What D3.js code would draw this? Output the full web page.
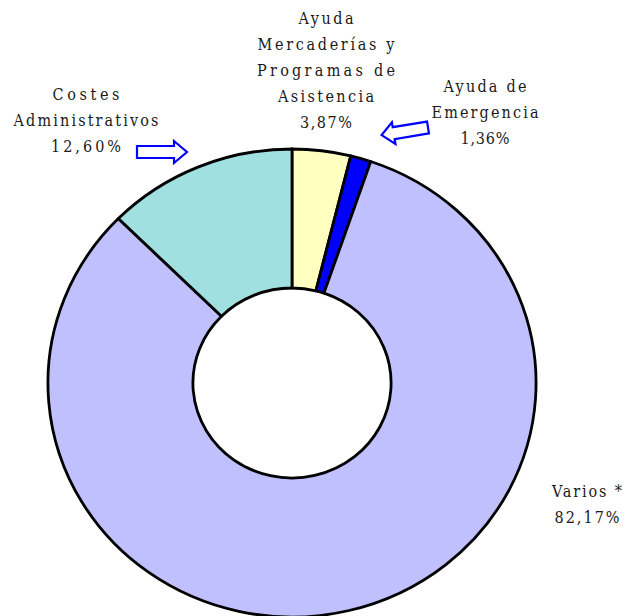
<!DOCTYPE html>
<html>
<head>
<meta charset="utf-8">
<script src="https://cdn.jsdelivr.net/npm/d3@7"></script>
<style>
  html, body { margin: 0; padding: 0; background: #fff; }
  svg { display: block; }
</style>
</head>
<body>
<svg id="chart" width="625" height="616"></svg>
<script>
// ---- data ----
const categories = [
  "Ayuda Mercaderías y Programas de Asistencia",
  "Ayuda de Emergencia",
  "Varios *",
  "Costes Administrativos"
];
const values = [3.87, 1.36, 82.17, 12.60];
const labelLines = [
  ["Ayuda", "Mercaderías y", "Programas de", "Asistencia"],
  ["Ayuda de", "Emergencia"],
  ["Varios *"],
  ["Costes", "Administrativos"]
];
const colors = ["#ffffc0", "#0000ff", "#c0c0ff", "#a0e0e0"];

// ---- layout (not data) ----
const cx = 292, cy = 383, outerR = 234, innerR = 95, xStretch = 1.043;
const labelLayout = [
  { x: 326, y: 24, widths: [55, 137, 138, 96, 52] },
  { x: 485, y: 92, widths: [83, 107, 49] },
  { x: 587, y: 497, widths: [70, 65] },
  { x: 86, y: 100, widths: [67, 145, 70] }
];
const lineH = 26;

const svg = d3.select("#chart");
const fmt = v => d3.format(".2f")(v).replace(".", ",") + "%";

const pie = d3.pie().sort(null).value(d => d)(values);
const arc = d3.arc().innerRadius(innerR).outerRadius(outerR);

const g = svg.append("g")
  .attr("transform", `translate(${cx},${cy}) scale(${xStretch},1)`);

g.selectAll("path.slice")
  .data(pie)
  .join("path")
  .attr("class", "slice")
  .attr("d", arc)
  .attr("fill", (d, i) => colors[i])
  .attr("stroke", "#000")
  .attr("stroke-width", 2.8)
  .attr("stroke-linejoin", "round")
  .attr("vector-effect", "non-scaling-stroke");

// ---- labels ----
categories.forEach((c, i) => {
  const L = labelLayout[i];
  const lines = labelLines[i].concat([fmt(values[i])]);
  const t = svg.append("text")
    .attr("text-anchor", "middle")
    .attr("font-family", "'DejaVu Serif Condensed', 'DejaVu Serif', serif")
    .attr("font-stretch", "condensed")
    .attr("font-size", 16)
    .attr("fill", "#1a1a1a");
  lines.forEach((ln, j) => {
    t.append("tspan")
      .attr("x", L.x)
      .attr("y", L.y + j * lineH)
      .attr("textLength", L.widths[j])
      .attr("lengthAdjust", "spacing")
      .text(ln);
  });
});

// ---- arrows ----
const arrowShape = [[0, -6], [37, -6], [37, -11], [50, 0], [37, 11], [37, 6], [0, 6]];
const arrowLine = d3.line();
const arrows = [
  { tx: 137, ty: 152, rot: 0, len: 1 },
  { tx: 428, ty: 127.5, rot: 170.7, len: 0.94 }
];
arrows.forEach(a => {
  svg.append("path")
    .attr("d", arrowLine(arrowShape.map(p => [p[0] * a.len, p[1]])) + "Z")
    .attr("transform", `translate(${a.tx},${a.ty}) rotate(${a.rot})`)
    .attr("fill", "#fff")
    .attr("stroke", "#0000ff")
    .attr("stroke-width", 2.2)
    .attr("stroke-linejoin", "miter");
});
</script>
</body>
</html>
